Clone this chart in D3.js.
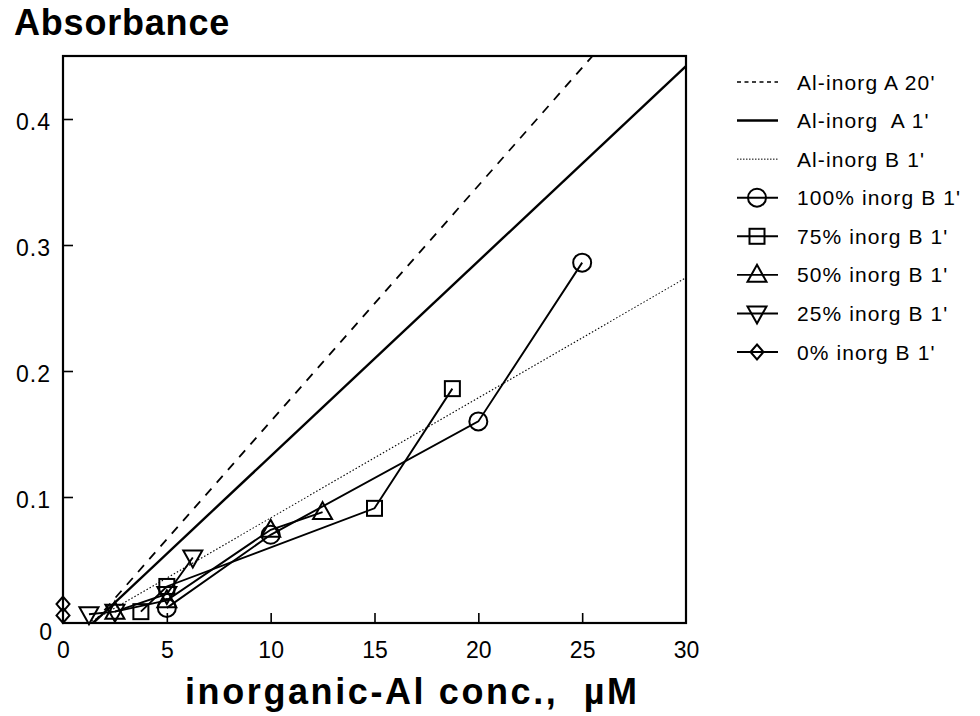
<!DOCTYPE html>
<html><head><meta charset="utf-8">
<script src="https://cdn.jsdelivr.net/npm/d3@7"></script>
<style>
html,body{margin:0;padding:0;background:#fff;}
text{font-family:"Liberation Sans",Arial,Helvetica,sans-serif;fill:#000;}
</style></head>
<body>
<svg id="chart" width="980" height="716"></svg>
<script>
// ---- data ----
const xTicks = [0, 5, 10, 15, 20, 25, 30];
const yTicks = [0, 0.1, 0.2, 0.3, 0.4];
const yTickLabels = ["0", "0.1", "0.2", "0.3", "0.4"];

// reference lines (straight calibration lines)
const lineA20 = [[1.45, 0], [25.5, 0.45]];
const lineA1  = [[1.45, 0], [30, 0.442]];
const lineB1  = [[1.25, 0], [30, 0.274]];

// measured series
const inorg100 = [[5, 0.012], [10, 0.070], [20, 0.160], [25, 0.286]];
const inorg75  = [[3.75, 0.009], [5, 0.029], [15, 0.091], [18.75, 0.186]];
const inorg50  = [[2.5, 0.009], [5, 0.018], [10, 0.074], [12.5, 0.088]];
const inorg25  = [[1.25, 0.007], [2.5, 0.009], [5, 0.023], [6.25, 0.052]];
const inorg0   = [[0, 0.006], [0, 0.015]];

const legendLabels = ["Al-inorg A 20'", "Al-inorg  A 1'", "Al-inorg B 1'",
  "100% inorg B 1'", "75% inorg B 1'", "50% inorg B 1'", "25% inorg B 1'", "0% inorg B 1'"];

// ---- drawing ----
const svg = d3.select("#chart");
const x = d3.scaleLinear().domain([0, 30]).range([63, 686]);
const y = d3.scaleLinear().domain([0, 0.45]).range([623, 56]);

const line = d3.line().x(d => x(d[0])).y(d => y(d[1]));

// marker shape generators (centered at 0,0)
const markers = {
  circle: g => g.append("circle").attr("r", 9),
  square: g => g.append("rect").attr("x", -7.5).attr("y", -7.5).attr("width", 15).attr("height", 15),
  up: g => g.append("path").attr("d", "M0,-10 L9.5,7 L-9.5,7 Z"),
  down: g => g.append("path").attr("d", "M0,10 L9.5,-7 L-9.5,-7 Z"),
  diamond: g => g.append("path").attr("d", "M0,-7.5 L6.5,0 L0,7.5 L-6.5,0 Z")
};

// frame
svg.append("rect").attr("x", x(0)).attr("y", y(0.45))
  .attr("width", x(30) - x(0)).attr("height", y(0) - y(0.45))
  .attr("fill", "none").attr("stroke", "#000").attr("stroke-width", 2.2);

// axes (inward ticks)
const xAxis = d3.axisBottom(x).tickValues(xTicks).tickSize(-10).tickPadding(19)
  .tickFormat(d3.format("d"));
const gx = svg.append("g").attr("transform", `translate(0,${y(0)})`).call(xAxis);
gx.select(".domain").remove();
gx.selectAll(".tick line").attr("stroke", "#000").attr("stroke-width", 1.6);
gx.selectAll(".tick text").attr("font-size", 23).attr("dy", "0.71em")
  .attr("font-family", "Liberation Sans, Arial, sans-serif");
gx.selectAll(".tick").filter(d => d === 0 || d === 30).select("line").remove();

const yAxis = d3.axisLeft(y).tickValues(yTicks).tickSize(-10).tickPadding(12)
  .tickFormat((d, i) => yTickLabels[i]);
const gy = svg.append("g").attr("transform", `translate(${x(0)},0)`).call(yAxis);
gy.select(".domain").remove();
gy.selectAll(".tick line").attr("stroke", "#000").attr("stroke-width", 1.6);
gy.selectAll(".tick text").attr("font-size", 23).attr("dy", "0.45em").attr("letter-spacing", 1)
  .attr("font-family", "Liberation Sans, Arial, sans-serif");
gy.selectAll(".tick").filter(d => d === 0).select("line").remove();
gy.selectAll(".tick").filter(d => d === 0).select("text").attr("dy", "0.7em").attr("x", -10);

// clip
svg.append("clipPath").attr("id", "clip").append("rect")
  .attr("x", x(0)).attr("y", y(0.45)).attr("width", x(30) - x(0)).attr("height", y(0) - y(0.45));
const plot = svg.append("g").attr("clip-path", "url(#clip)");

const refStyles = [
  {data: lineA20, w: 1.8, dash: "9,8"},
  {data: lineA1, w: 2.4, dash: null},
  {data: lineB1, w: 1.1, dash: "1.5,2"}
];
refStyles.forEach(s => {
  plot.append("path").attr("d", line(s.data)).attr("fill", "none")
    .attr("stroke", "#000").attr("stroke-width", s.w)
    .attr("stroke-dasharray", s.dash);
});

const series = [
  {data: inorg100, m: "circle"},
  {data: inorg75, m: "square"},
  {data: inorg50, m: "up"},
  {data: inorg25, m: "down"},
  {data: inorg0, m: "diamond"}
];
const pts = svg.append("g");
series.forEach(s => {
  pts.append("path").attr("d", line(s.data)).attr("fill", "none")
    .attr("stroke", "#000").attr("stroke-width", 1.9);
  s.data.forEach(d => {
    const g = pts.append("g").attr("transform", `translate(${x(d[0])},${y(d[1])})`);
    markers[s.m](g).attr("fill", "none").attr("stroke", "#000").attr("stroke-width", 2);
  });
});

// titles
svg.append("text").attr("x", 14).attr("y", 35).attr("font-size", 36).attr("font-weight", "bold")
  .attr("letter-spacing", 0.8).text("Absorbance");
svg.append("text").attr("x", 185).attr("y", 704).attr("font-size", 36).attr("font-weight", "bold")
  .attr("letter-spacing", 2.6).style("white-space", "pre").text("inorganic-Al conc.,  µM");

// legend
const legY = d3.scaleLinear().domain([0, 7]).range([82, 352]);
const leg = svg.append("g");
legendLabels.forEach((lab, i) => {
  const yy = legY(i);
  let w = 1.9, dash = null;
  if (i === 0) { w = 1.6; dash = "4,3.5"; }
  if (i === 1) { w = 2.6; }
  if (i === 2) { w = 1.0; dash = "1.5,1.5"; }
  leg.append("line").attr("x1", 737).attr("x2", 778).attr("y1", yy).attr("y2", yy)
    .attr("stroke", "#000").attr("stroke-width", w).attr("stroke-dasharray", dash);
  if (i >= 3) {
    const g = leg.append("g").attr("transform", `translate(757,${yy})`);
    markers[series[i - 3].m](g).attr("fill", "none").attr("stroke", "#000").attr("stroke-width", 2);
  }
  leg.append("text").attr("x", 797).attr("y", yy).attr("dy", "0.36em")
    .attr("font-size", 21).attr("letter-spacing", 1.1).style("white-space", "pre").text(lab);
});
</script>
</body></html>
